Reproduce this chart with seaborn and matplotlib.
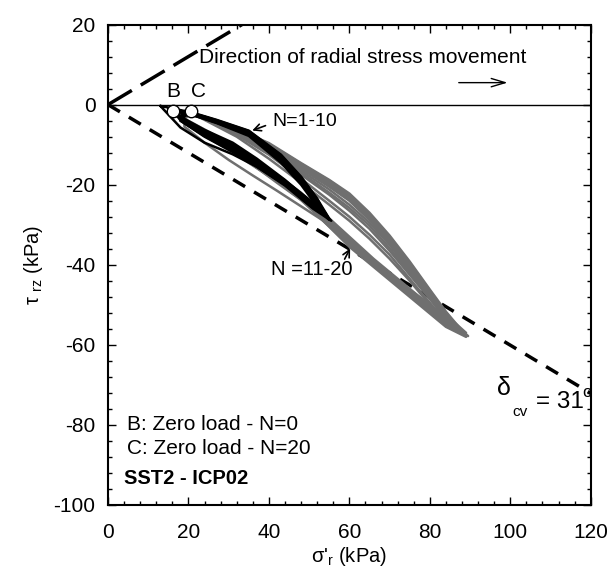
import numpy as np
import pandas as pd
import matplotlib
matplotlib.use("Agg")
import matplotlib.pyplot as plt
from matplotlib.ticker import MultipleLocator
import seaborn as sns

# ---------------- data ----------------
# Black cycles N = 1-10
black_start = [(13, -0.3), (15, -1.2), (15.5, -1.4), (16, -1.5), (16, -1.6),
               (17, -1.7), (17.5, -1.7), (18.5, -1.8), (19.5, -1.8), (20.5, -1.8)]
black_tip = [(55, -28.5), (54.5, -28), (54, -27.5), (53.5, -27), (55, -28.8),
             (53, -26.5), (54.5, -27.8), (55.5, -29), (54, -27.2), (54.8, -28.3)]
black_upper_x = [21, 27, 35, 43, 48, 52]
black_upper_y = [
    [-2.0, -3.8, -6.5, -12.5, -18.0, -23.5],
    [-2.2, -4.0, -6.8, -13.0, -18.5, -24.0],
    [-2.1, -3.9, -6.6, -12.7, -18.2, -23.6],
    [-2.4, -4.3, -7.2, -13.5, -19.2, -24.5],
    [-2.3, -4.1, -7.0, -13.2, -18.8, -24.2],
    [-2.5, -4.5, -7.5, -14.0, -19.5, -25.0],
    [-2.2, -4.0, -6.9, -13.0, -18.6, -24.0],
    [-2.6, -4.6, -7.8, -14.5, -20.0, -25.5],
    [-2.3, -4.2, -7.1, -13.3, -19.0, -24.3],
    [-2.5, -4.4, -7.4, -13.8, -19.4, -24.8],
]
black_lower_x = [51, 44, 37, 31, 24, 18]
black_lower_y = [
    [-25.5, -20.0, -15.5, -12.4, -9.5, -5.7],
    [-25.0, -19.5, -14.5, -10.5, -7.0, -3.5],
    [-24.5, -19.0, -14.0, -10.0, -6.5, -3.2],
    [-25.5, -19.8, -15.0, -11.0, -7.3, -3.8],
    [-24.8, -18.8, -13.5, -9.5, -6.3, -3.0],
    [-25.8, -20.0, -15.2, -11.5, -7.8, -4.0],
    [-25.2, -19.2, -14.2, -10.2, -6.8, -3.4],
    [-26.0, -20.2, -15.5, -11.8, -8.0, -4.0],
    [-25.0, -19.5, -14.8, -10.8, -7.0, -3.5],
    [-25.6, -19.8, -15.0, -11.2, -7.5, -3.8],
]

# Grey cycles N = 11-20
grey_start = [(15, -1.0), (16, -1.2), (16, -1.3), (17, -1.3), (17, -1.4),
              (18, -1.5), (18, -1.5), (19, -1.6), (19, -1.6), (20, -1.7)]
grey_tip = [(88.5, -57.5), (89, -57), (88, -56.5), (89.5, -57.8), (87.5, -56),
            (87, -55.5), (89, -58), (88.5, -57), (89, -57.5), (88, -56.5)]
grey_upper_x = [24, 32, 40, 48, 55, 60, 65, 70, 75, 80, 84]
grey_upper_y = [
    [-3.0, -6.0, -9.8, -14.8, -19.0, -22.5, -27.3, -33.0, -39.5, -46.5, -52.0],
    [-3.2, -6.3, -10.2, -15.2, -19.5, -23.0, -27.8, -33.5, -40.0, -47.0, -52.5],
    [-3.1, -6.1, -9.6, -14.6, -18.8, -22.2, -27.0, -32.7, -39.2, -46.2, -51.7],
    [-3.3, -6.6, -10.8, -16.0, -20.5, -24.0, -28.8, -34.5, -41.0, -47.8, -53.0],
    [-3.5, -7.2, -12.0, -17.5, -22.5, -26.5, -31.0, -36.5, -42.5, -48.5, -53.0],
    [-3.6, -7.5, -12.5, -18.5, -24.0, -28.0, -32.5, -37.5, -43.5, -49.5, -54.0],
    [-3.3, -6.8, -11.2, -16.5, -21.2, -25.0, -29.5, -35.0, -41.5, -48.0, -53.5],
    [-3.4, -7.0, -11.5, -17.0, -22.0, -25.8, -30.2, -35.8, -42.0, -48.5, -53.5],
    [-3.2, -6.4, -10.5, -15.6, -20.0, -23.5, -28.2, -34.0, -40.5, -47.3, -52.8],
    [-3.8, -8.0, -13.5, -19.5, -25.0, -29.0, -33.5, -38.5, -44.0, -50.0, -54.5],
]
grey_lower_x = [84, 78, 72, 66, 60, 54, 48, 42, 36, 30, 24, 19]
grey_lower_y = [
    [-54.0, -49.0, -44.0, -39.0, -34.0, -28.5, -23.0, -18.5, -14.5, -10.5, -7.0, -4.0],
    [-54.5, -49.5, -44.5, -39.5, -34.5, -29.0, -23.5, -19.0, -15.0, -11.0, -7.5, -4.2],
    [-53.5, -48.5, -44.0, -39.0, -33.5, -28.0, -22.5, -18.0, -14.0, -10.0, -6.5, -3.8],
    [-55.0, -50.0, -45.0, -40.0, -35.0, -29.5, -23.5, -19.0, -14.8, -11.0, -7.5, -4.2],
    [-53.0, -48.5, -43.5, -38.5, -33.0, -27.5, -22.0, -17.5, -13.5, -9.5, -6.2, -3.5],
    [-53.5, -49.0, -44.0, -39.0, -34.0, -28.5, -23.5, -19.0, -15.0, -11.0, -7.5, -4.0],
    [-55.5, -50.5, -45.5, -40.5, -35.5, -29.5, -23.8, -19.5, -15.0, -11.2, -7.6, -4.2],
    [-54.5, -50.0, -45.0, -40.0, -34.5, -29.0, -23.5, -19.0, -15.0, -11.2, -7.8, -4.5],
    [-54.5, -50.0, -45.0, -39.5, -33.5, -29.3, -25.4, -21.5, -17.7, -13.8, -9.5, -5.5],
    [-53.5, -49.0, -44.5, -39.5, -34.0, -28.8, -23.8, -19.2, -15.2, -11.3, -7.8, -4.5],
]

# zero-load points
zero_labels = ["B", "C"]
zero_x = [16.1, 20.6]
zero_y = [-1.7, -1.7]
zero_label_x = [16.1, 22.6]

delta_cv_deg = 31
x_ticks = [0, 20, 40, 60, 80, 100, 120]
y_ticks = [-100, -80, -60, -40, -20, 0, 20]


def build_frame(starts, tips, ux, uys, lx, lys):
    rows = []
    for c, (s, t, uy, ly) in enumerate(zip(starts, tips, uys, lys)):
        xs = [s[0]] + ux + [t[0]] + lx + [s[0]]
        ys = [s[1]] + uy + [t[1]] + ly + [s[1]]
        for i, (xv, yv) in enumerate(zip(xs, ys)):
            rows.append({"cycle": c, "order": i, "x": xv, "y": yv})
    return pd.DataFrame(rows)


df_black = build_frame(black_start, black_tip, black_upper_x, black_upper_y,
                       black_lower_x, black_lower_y)
df_grey = build_frame(grey_start, grey_tip, grey_upper_x, grey_upper_y,
                      grey_lower_x, grey_lower_y)

# ---------------- figure ----------------
sns.set_style("ticks")
plt.rcParams["font.family"] = ["Liberation Sans", "DejaVu Sans"]
plt.rcParams["mathtext.fontset"] = "custom"
plt.rcParams["mathtext.rm"] = "Liberation Sans"
plt.rcParams["mathtext.it"] = "Liberation Sans"
plt.rcParams["axes.unicode_minus"] = False
plt.rcParams["text.color"] = "black"
plt.rcParams["axes.labelcolor"] = "black"

fig = plt.figure(figsize=(6.15, 5.76), dpi=100)
ax = fig.add_axes([0.1756, 0.1233, 0.785, 0.834])

xmax = 120
tan_d = np.tan(np.radians(delta_cv_deg))
ax.plot([0, xmax], [0, 0], color="black", lw=1.0, zorder=1)
ax.plot([0, 40], [0, 40 * tan_d], color="black", lw=2.5,
        dashes=(8, 3), zorder=1)
ax.plot([0, xmax], [0, -xmax * tan_d], color="black", lw=2.5,
        dashes=(4, 3), zorder=1)

sns.lineplot(data=df_grey, x="x", y="y", units="cycle", estimator=None,
             sort=False, color="#6f6f6f", lw=1.8, ax=ax, zorder=2)
sns.lineplot(data=df_black, x="x", y="y", units="cycle", estimator=None,
             sort=False, color="black", lw=1.8, ax=ax, zorder=3)

ax.scatter(zero_x, zero_y, s=80, facecolor="white", edgecolor="black",
           linewidth=1.0, zorder=5)
for lab, xv in zip(zero_labels, zero_label_x):
    ax.text(xv, 0.9, lab, fontsize=15, ha="center", va="bottom", zorder=6)

ax.set_xlim(0, 120)
ax.set_ylim(-100, 20)
ax.set_xticks(x_ticks)
ax.set_yticks(y_ticks)
ax.xaxis.set_minor_locator(MultipleLocator(4))
ax.yaxis.set_minor_locator(MultipleLocator(4))
ax.tick_params(which="both", direction="in", top=True, right=True,
               labelsize=15, color="black", labelcolor="black")
ax.tick_params(which="major", length=6, width=1.0)
ax.tick_params(which="minor", length=3, width=1.0)
ax.tick_params(axis="x", which="major", pad=13)
ax.tick_params(axis="y", which="major", pad=9)
for sp in ax.spines.values():
    sp.set_visible(True)
    sp.set_linewidth(1.5)
    sp.set_color("black")

ax.set_xlabel("σ'$_\\mathregular{r}$ (kPa)", fontsize=14.5, labelpad=2)
ax.set_ylabel("τ $_\\mathregular{rz}$ (kPa)", fontsize=14.5, labelpad=6)

# annotations
ax.text(22.5, 11.8, "Direction of radial stress movement", fontsize=15,
        ha="left", va="center")
ax.annotate("", xy=(100, 5.5), xytext=(86.5, 5.5),
            arrowprops=dict(arrowstyle="->,head_length=1.0,head_width=0.3",
                            lw=1.0, color="black"))
ax.text(40.8, -4.3, "N=1-10", fontsize=14, ha="left", va="center")
ax.annotate("", xy=(35.2, -6.7), xytext=(39.8, -5.0),
            arrowprops=dict(arrowstyle="->,head_length=0.5,head_width=0.25",
                            lw=1.2, color="black"))
ax.text(40.5, -41.2, "N =11-20", fontsize=14.5, ha="left", va="center")
ax.annotate("", xy=(60.5, -35.3), xytext=(58.5, -39.2),
            arrowprops=dict(arrowstyle="->,head_length=0.5,head_width=0.25",
                            lw=1.2, color="black"))

ax.text(98.5, -70.8, "δ", fontsize=18, ha="center", va="center")
ax.text(102.3, -76.8, "cv", fontsize=11, ha="center", va="center")
ax.text(106.3, -74.2, "= 31", fontsize=17.5, ha="left", va="center")
ax.text(118.0, -71.8, "o", fontsize=12, ha="left", va="center")

ax.text(4.6, -80.0, "B: Zero load - N=0", fontsize=15, ha="left", va="center")
ax.text(4.6, -86.0, "C: Zero load - N=20", fontsize=15, ha="left", va="center")
ax.text(3.9, -93.5, "SST2 - ICP02", fontsize=14.5, fontweight="bold",
        ha="left", va="center")

fig.savefig("out.png", dpi=100)
